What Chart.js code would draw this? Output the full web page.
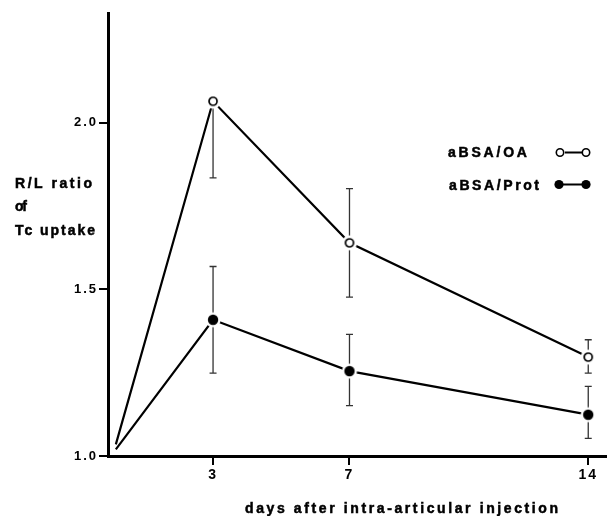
<!DOCTYPE html>
<html>
<head>
<meta charset="utf-8">
<script src="https://cdn.jsdelivr.net/npm/chart.js@4"></script>
<style>
html, body { margin: 0; padding: 0; background: #fff; }
#wrap { width: 607px; height: 516px; position: relative; }
</style>
</head>
<body>
<div id="wrap"><canvas id="myChart"></canvas></div>
<script>
// values
const days = [0.15, 3, 7, 14];
const oaValues = [1.035, 2.065, 1.64, 1.297];
const oaErrUp = [0, 0, 0.163, 0.052];
const oaErrDown = [0, 0.23, 0.163, 0.048];
const protValues = [1.02, 1.409, 1.255, 1.124];
const protErrUp = [0, 0.16, 0.11, 0.085];
const protErrDown = [0, 0.16, 0.104, 0.071];
const xTicks = [3, 7, 14];
const yTicks = [1.0, 1.5, 2.0];
const legendLabels = ["aBSA/OA", "aBSA/Prot"];
const yTitle = ["R/L ratio", "of", "Tc uptake"];
const xTitle = "days after intra-articular injection";

const FONT = "'Liberation Sans', Arial, Helvetica, sans-serif";

const makeMarker = (filled) => {
    const c = document.createElement("canvas");
    c.width = 18;
    c.height = 18;
    const g = c.getContext("2d");
    g.fillStyle = "#fff";
    g.beginPath();
    g.arc(9, 9, 7.6, 0, Math.PI * 2);
    g.fill();
    g.beginPath();
    if (filled) {
        g.arc(9, 9, 5.2, 0, Math.PI * 2);
        g.fillStyle = "#000";
        g.fill();
    } else {
        g.arc(9, 9, 4, 0, Math.PI * 2);
        g.lineWidth = 1.7;
        g.strokeStyle = "#000";
        g.stroke();
    }
    return c;
};
const openMarker = makeMarker(false);
const filledMarker = makeMarker(true);

// draw text stretched to a given width with letter spacing
const fitText = (ctx, text, x, y, width) => {
    ctx.letterSpacing = "0px";
    const w = ctx.measureText(text).width;
    const sp = text.length > 1 ? (width - w) / (text.length - 1) : 0;
    ctx.letterSpacing = sp.toFixed(2) + "px";
    ctx.fillText(text, x, y);
    ctx.strokeText(text, x, y);
    ctx.letterSpacing = "0px";
};

// spaced-out tick labels like the printed figure
const tickSpacing = {
    id: "tickSpacing",
    beforeDraw(chart) {
        chart.ctx.letterSpacing = "2px";
    },
    beforeDatasetsDraw(chart) {
        chart.ctx.letterSpacing = "0px";
    },
};

const errorBars = {
    id: "errorBars",
    beforeDatasetsDraw(chart) {
        const { ctx, scales } = chart;
        const sets = [
            [oaValues, oaErrUp, oaErrDown],
            [protValues, protErrUp, protErrDown],
        ];
        ctx.save();
        ctx.strokeStyle = "#333";
        ctx.lineWidth = 1.3;
        sets.forEach(([vals, up, down]) => {
            vals.forEach((v, i) => {
                const x = scales.x.getPixelForValue(days[i]);
                const yc = scales.y.getPixelForValue(v);
                if (up[i] > 0) {
                    const yt = scales.y.getPixelForValue(v + up[i]);
                    ctx.beginPath();
                    ctx.moveTo(x, yc);
                    ctx.lineTo(x, yt);
                    ctx.moveTo(x - 3.5, yt);
                    ctx.lineTo(x + 3.5, yt);
                    ctx.stroke();
                }
                if (down[i] > 0) {
                    const yb = scales.y.getPixelForValue(v - down[i]);
                    ctx.beginPath();
                    ctx.moveTo(x, yc);
                    ctx.lineTo(x, yb);
                    ctx.moveTo(x - 3.5, yb);
                    ctx.lineTo(x + 3.5, yb);
                    ctx.stroke();
                }
            });
        });
        ctx.restore();
    },
};

const texts = {
    id: "texts",
    afterDraw(chart) {
        const { ctx } = chart;
        ctx.save();
        ctx.fillStyle = "#000";
        ctx.strokeStyle = "#000";
        ctx.lineWidth = 0.5;
        ctx.textBaseline = "alphabetic";
        ctx.textAlign = "left";
        ctx.font = "bold 14px " + FONT;
        fitText(ctx, yTitle[0], 15, 188, 77);
        fitText(ctx, yTitle[1], 15, 211, 12);
        fitText(ctx, yTitle[2], 15, 235, 80);
        fitText(ctx, xTitle, 245, 513, 313);
        fitText(ctx, legendLabels[0], 448, 157, 79);
        fitText(ctx, legendLabels[1], 449, 190, 90);

        // legend symbols
        ctx.lineWidth = 2.2;
        ctx.beginPath();
        ctx.moveTo(565, 152.5);
        ctx.lineTo(582, 152.5);
        ctx.moveTo(562, 184.5);
        ctx.lineTo(582, 184.5);
        ctx.stroke();
        ctx.lineWidth = 1.6;
        [560, 586].forEach((x) => {
            ctx.beginPath();
            ctx.arc(x, 152.5, 3.7, 0, Math.PI * 2);
            ctx.fillStyle = "#fff";
            ctx.fill();
            ctx.stroke();
        });
        ctx.fillStyle = "#000";
        [559, 586].forEach((x) => {
            ctx.beginPath();
            ctx.arc(x, 184.5, 4.6, 0, Math.PI * 2);
            ctx.fill();
        });
        ctx.restore();
    },
};

const ctx = document.getElementById("myChart");

new Chart(ctx, {
    type: "line",
    data: {
        datasets: [
            {
                label: legendLabels[0],
                data: days.map((d, i) => ({ x: d, y: oaValues[i] })),
                borderColor: "#000",
                borderWidth: 2.2,
                pointStyle: [openMarker, openMarker, openMarker, openMarker],
                pointRadius: [0, 5, 5, 5],
                tension: 0,
            },
            {
                label: legendLabels[1],
                data: days.map((d, i) => ({ x: d, y: protValues[i] })),
                borderColor: "#000",
                borderWidth: 2.2,
                pointStyle: [filledMarker, filledMarker, filledMarker, filledMarker],
                pointRadius: [0, 5, 5, 5],
                tension: 0,
            },
        ],
    },
    options: {
        responsive: true,
        maintainAspectRatio: false,
        animation: false,
        layout: { autoPadding: false, padding: { top: 13, left: 0, right: 0, bottom: 0 } },
        plugins: {
            legend: { display: false },
            tooltip: { enabled: false },
        },
        scales: {
            x: {
                type: "linear",
                min: -0.08,
                max: 14.55,
                afterBuildTicks: (scale) => {
                    scale.ticks = xTicks.map((v) => ({ value: v }));
                },
                afterFit: (scale) => {
                    scale.height = 60;
                },
                ticks: {
                    color: "#000",
                    font: { family: FONT, weight: "bold", size: 14 },
                    padding: 2,
                    maxRotation: 0,
                    callback: (v) => String(v),
                },
                grid: {
                    drawOnChartArea: false,
                    drawTicks: true,
                    tickLength: 9,
                    color: "#000",
                    lineWidth: 2,
                },
                border: { display: true, color: "#000", width: 3 },
            },
            y: {
                type: "linear",
                min: 1.0,
                max: 2.33,
                afterBuildTicks: (scale) => {
                    scale.ticks = yTicks.map((v) => ({ value: v }));
                },
                afterFit: (scale) => {
                    scale.width = 108;
                },
                ticks: {
                    color: "#000",
                    font: { family: FONT, weight: "bold", size: 13 },
                    padding: 1,
                    callback: (v) => v.toFixed(1),
                },
                grid: {
                    drawOnChartArea: false,
                    drawTicks: true,
                    tickLength: 9,
                    color: "#000",
                    lineWidth: 2,
                },
                border: { display: true, color: "#000", width: 3 },
            },
        },
    },
    plugins: [tickSpacing, errorBars, texts],
});
</script>
</body>
</html>
